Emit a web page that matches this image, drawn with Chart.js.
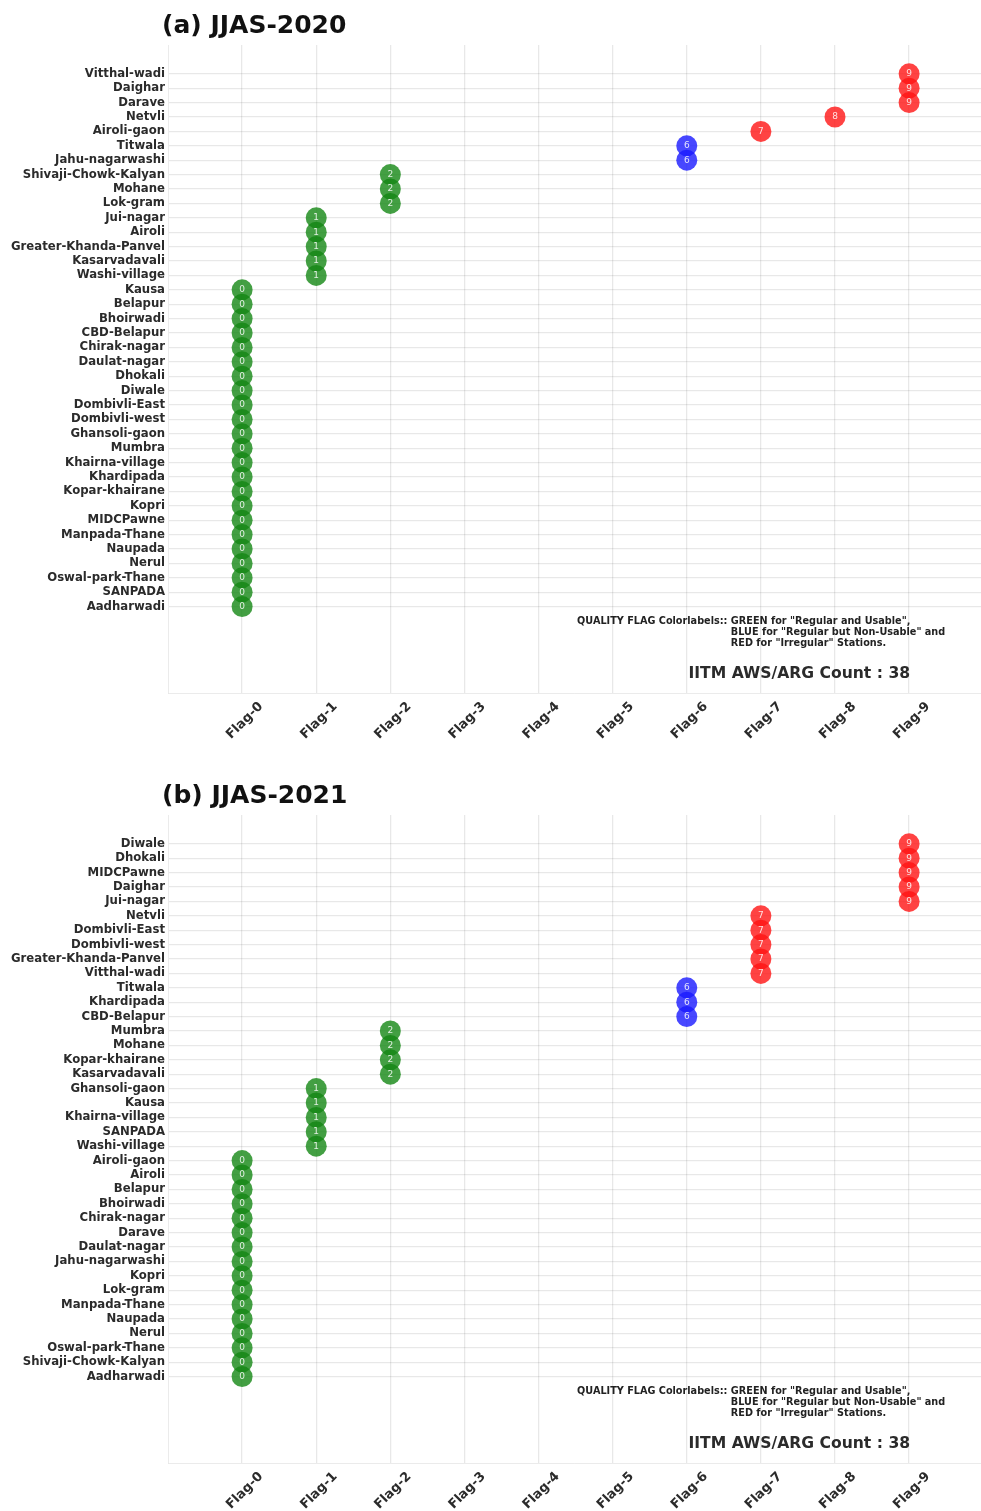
<!DOCTYPE html>
<html>
<head>
<meta charset="utf-8">
<script src="https://cdn.jsdelivr.net/npm/chart.js@4.4.0/dist/chart.umd.min.js"></script>
<style>
  html, body { margin: 0; padding: 0; background: #fff; overflow: hidden; }
  .box { position: absolute; left: 0; }
</style>
</head>
<body>
<div class="box" style="top:0px"><canvas id="c2020" width="981" height="755"></canvas></div>
<div class="box" style="top:770px"><canvas id="c2021" width="981" height="741"></canvas></div>
<script>
// stations listed top to bottom, with their quality flag
var stations2020 = ['Vitthal-wadi', 'Daighar', 'Darave', 'Netvli', 'Airoli-gaon', 'Titwala', 'Jahu-nagarwashi',
  'Shivaji-Chowk-Kalyan', 'Mohane', 'Lok-gram', 'Jui-nagar', 'Airoli', 'Greater-Khanda-Panvel', 'Kasarvadavali',
  'Washi-village', 'Kausa', 'Belapur', 'Bhoirwadi', 'CBD-Belapur', 'Chirak-nagar', 'Daulat-nagar', 'Dhokali',
  'Diwale', 'Dombivli-East', 'Dombivli-west', 'Ghansoli-gaon', 'Mumbra', 'Khairna-village', 'Khardipada',
  'Kopar-khairane', 'Kopri', 'MIDCPawne', 'Manpada-Thane', 'Naupada', 'Nerul', 'Oswal-park-Thane', 'SANPADA',
  'Aadharwadi'];
var flags2020 = [9, 9, 9, 8, 7, 6, 6, 2, 2, 2, 1, 1, 1, 1, 1,
  0, 0, 0, 0, 0, 0, 0, 0, 0, 0, 0, 0, 0, 0, 0, 0, 0, 0, 0, 0, 0, 0, 0];

var stations2021 = ['Diwale', 'Dhokali', 'MIDCPawne', 'Daighar', 'Jui-nagar', 'Netvli', 'Dombivli-East',
  'Dombivli-west', 'Greater-Khanda-Panvel', 'Vitthal-wadi', 'Titwala', 'Khardipada', 'CBD-Belapur', 'Mumbra',
  'Mohane', 'Kopar-khairane', 'Kasarvadavali', 'Ghansoli-gaon', 'Kausa', 'Khairna-village', 'SANPADA',
  'Washi-village', 'Airoli-gaon', 'Airoli', 'Belapur', 'Bhoirwadi', 'Chirak-nagar', 'Darave', 'Daulat-nagar',
  'Jahu-nagarwashi', 'Kopri', 'Lok-gram', 'Manpada-Thane', 'Naupada', 'Nerul', 'Oswal-park-Thane',
  'Shivaji-Chowk-Kalyan', 'Aadharwadi'];
var flags2021 = [9, 9, 9, 9, 9, 7, 7, 7, 7, 7, 6, 6, 6, 2, 2, 2, 2, 1, 1, 1, 1, 1,
  0, 0, 0, 0, 0, 0, 0, 0, 0, 0, 0, 0, 0, 0, 0, 0];

var flagTicks = [0, 1, 2, 3, 4, 5, 6, 7, 8, 9];

function flagColor(f) {
  if (f <= 2) return 'rgba(20,135,20,0.8)';
  if (f <= 6) return 'rgba(25,25,255,0.8)';
  return 'rgba(255,20,20,0.8)';
}

var overlay = {
  id: 'overlay',
  afterDatasetsDraw: function (chart) {
    var ctx = chart.ctx;
    var meta = chart.getDatasetMeta(0);
    var data = chart.data.datasets[0].data;
    ctx.save();
    ctx.fillStyle = 'rgba(255,255,255,0.85)';
    ctx.font = '9px "DejaVu Sans"';
    ctx.textAlign = 'center';
    ctx.textBaseline = 'middle';
    meta.data.forEach(function (pt, i) {
      ctx.fillText(String(data[i].x), pt.x, pt.y);
    });
    ctx.restore();
  },
  afterDraw: function (chart) {
    var ctx = chart.ctx;
    var xs = chart.scales.x, ys = chart.scales.y;
    var o = chart.options.plugins.overlay;
    ctx.save();
    // title
    ctx.fillStyle = '#111';
    ctx.font = 'bold 25px "DejaVu Sans"';
    ctx.textAlign = 'left';
    ctx.textBaseline = 'alphabetic';
    ctx.fillText(o.title, chart.chartArea.left - 6, 33);
    // colour note
    ctx.fillStyle = '#222';
    ctx.font = 'bold 9.7px "DejaVu Sans"';
    ctx.textBaseline = 'middle';
    var x0 = xs.getPixelForValue(4.52);
    var y0 = ys.getPixelForValue(-1);
    var head = 'QUALITY FLAG Colorlabels:: ';
    var indent = x0 + ctx.measureText(head).width;
    ctx.fillText(head + 'GREEN for "Regular and Usable",', x0, y0);
    ctx.fillText('BLUE for "Regular but Non-Usable" and', indent, y0 + 11);
    ctx.fillText('RED for "Irregular" Stations.', indent, y0 + 22);
    // count
    ctx.fillStyle = '#2b2b2b';
    ctx.font = 'bold 15.6px "DejaVu Sans"';
    ctx.textAlign = 'right';
    ctx.fillText('IITM AWS/ARG Count : ' + chart.data.datasets[0].data.length,
      xs.getPixelForValue(9) + 1, ys.getPixelForValue(-4.65));
    ctx.restore();
  }
};

function makeChart(id, title, stations, flags, xHeight) {
  var n = stations.length;
  var points = stations.map(function (s, i) { return { x: flags[i], y: n - 1 - i }; });
  var rowTicks = stations.map(function (s, i) { return i; });
  return new Chart(document.getElementById(id), {
    type: 'scatter',
    data: {
      datasets: [{
        data: points,
        pointRadius: 10.5,
        pointHoverRadius: 10.5,
        pointBorderWidth: 0,
        backgroundColor: flags.map(flagColor)
      }]
    },
    options: {
      responsive: false,
      animation: false,
      layout: { autoPadding: false, padding: { top: 45, left: 0, right: 0, bottom: 0 } },
      plugins: {
        legend: { display: false },
        tooltip: { enabled: false },
        overlay: { title: title }
      },
      scales: {
        x: {
          type: 'linear',
          min: -1,
          max: 9.97,
          afterBuildTicks: function (s) { s.ticks = flagTicks.map(function (v) { return { value: v }; }); },
          afterFit: function (s) { s.height = xHeight; s.paddingLeft = 0; s.paddingRight = 0; },
          grid: { color: 'rgba(0,0,0,0.09)', lineWidth: 1.3, drawTicks: false },
          border: { color: 'rgba(0,0,0,0.08)', width: 1 },
          ticks: {
            minRotation: 45,
            maxRotation: 45,
            labelOffset: 19,
            padding: 6,
            color: '#2b2b2b',
            font: { family: 'DejaVu Sans', weight: 'bold', size: 13 },
            callback: function (v) { return 'Flag-' + v; }
          }
        },
        y: {
          type: 'linear',
          min: -6,
          max: 39,
          afterBuildTicks: function (s) { s.ticks = rowTicks.map(function (v) { return { value: v }; }); },
          afterFit: function (s) { s.width = 168; s.paddingTop = 0; s.paddingBottom = 0; },
          grid: { color: 'rgba(0,0,0,0.09)', lineWidth: 1.3, drawTicks: false },
          border: { color: 'rgba(0,0,0,0.08)', width: 1 },
          ticks: {
            padding: 3,
            color: '#2b2b2b',
            font: { family: 'DejaVu Sans', weight: 'bold', size: 11.7 },
            callback: function (v) { return stations[n - 1 - v]; }
          }
        }
      }
    },
    plugins: [overlay]
  });
}

makeChart('c2020', '(a) JJAS-2020', stations2020, flags2020, 62);
makeChart('c2021', '(b) JJAS-2021', stations2021, flags2021, 48);
</script>
</body>
</html>
